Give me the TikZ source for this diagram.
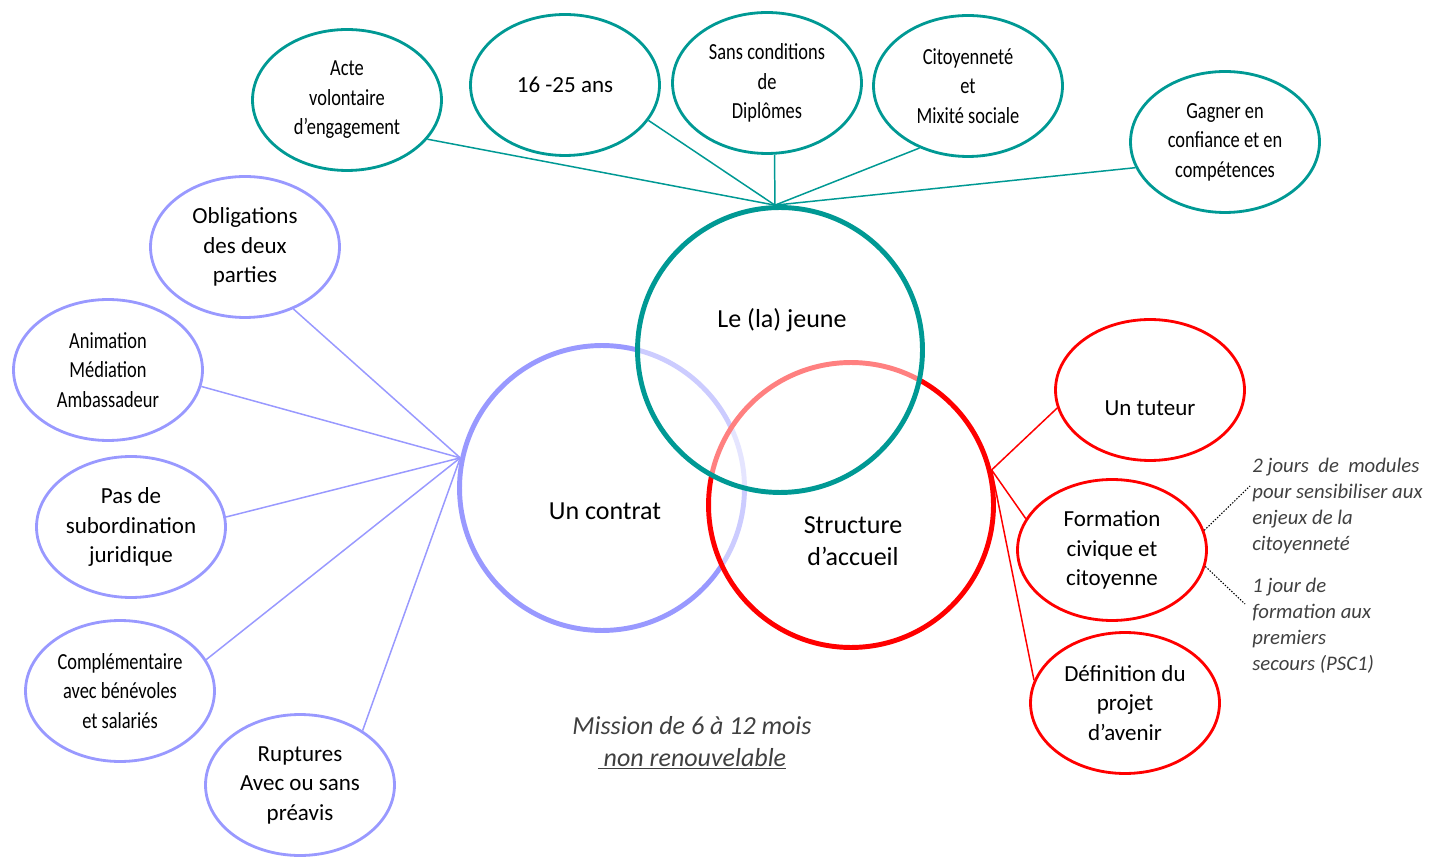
\documentclass[tikz,border=0pt]{standalone}
\usepackage{fontspec}
\setmainfont{Carlito}
\newfontfamily\narrowfont{Carlito}[FakeStretch=0.8]
\usetikzlibrary{shapes,positioning}
\definecolor{jeunecol}{RGB}{0,153,148}
\definecolor{contratcol}{RGB}{153,153,255}
\definecolor{structcol}{RGB}{255,0,0}
\definecolor{notegray}{RGB}{64,64,64}
\tikzset{
    topic/.style={
        circle,
        line width=2.8pt,
        inner sep=0pt,
        minimum size=5.7cm,
    },
    bubble/.style={
        ellipse,
        draw,
        line width=1.6pt,
        inner sep=0pt,
        minimum width=3.78cm,
        minimum height=2.82cm,
        align=center,
        font=\fontsize{13.1}{16.8}\selectfont,
    },
    narrow/.style={
        font=\narrowfont\fontsize{13.1}{16.8}\selectfont,
    },
    topictext/.style={
        align=center,
        font=\fontsize{14.8}{18.2}\selectfont,
    },
    link/.style={
        line width=0.85pt,
    },
    note/.style={
        anchor=north west,
        inner sep=0pt,
        align=left,
        text=notegray,
        font=\itshape\fontsize{11.8}{14.8}\selectfont,
    },
}
\begin{document}
\begin{tikzpicture}[x=0.02cm,y=-0.02cm]
    \useasboundingbox (0,0) rectangle (1429,857);
    \node [topic, draw=contratcol] (contrat) at (602,488) {};
    \node [topic, draw=structcol, fill=white, fill opacity=0.5] (structure) at (851,505) {};
    \node [topic, draw=jeunecol, fill=white, fill opacity=0.5] (jeune) at (780,350) {};
    \node [topictext] (jeunetxt) at (782,320) {Le (la) jeune};
    \node [topictext] (contrattxt) at (605,511) {Un contrat};
    \node [topictext] (structuretxt) at (853,541) {Structure\\d’accueil};

    \node [bubble, narrow, draw=jeunecol] (acte) at (347,100) {Acte\\volontaire\\d’engagement};
    \node [bubble, draw=jeunecol] (ages) at (565,85) {16 -25 ans};
    \node [bubble, narrow, draw=jeunecol] (diplomes) at (767,83) {Sans conditions\\de\\Diplômes};
    \node [bubble, narrow, draw=jeunecol] (mixite) at (968,86) {Citoyenneté\\et\\Mixité sociale};
    \node [bubble, narrow, draw=jeunecol] (confiance) at (1225,142) {Gagner en\\confiance et en\\compétences};

    \node [bubble, draw=contratcol] (obligations) at (245,247) {Obligations\\des deux\\parties};
    \node [bubble, narrow, draw=contratcol] (animation) at (108,370) {Animation\\Médiation\\Ambassadeur};
    \node [bubble, draw=contratcol] (subordination) at (131,527) {Pas de\\subordination\\juridique};
    \node [bubble, narrow, draw=contratcol] (benevoles) at (120,691) {Complémentaire\\avec bénévoles\\et salariés};
    \node [bubble, draw=contratcol] (ruptures) at (300,785) {Ruptures\\Avec ou sans\\préavis};

    \node [bubble, draw=structcol] (tuteur) at (1150,390) {};
    \node [topictext, font=\fontsize{13.1}{16.8}\selectfont] (tuteurtxt) at (1150,408) {Un tuteur};
    \node [bubble, draw=structcol] (formation) at (1112,550) {Formation\\civique et\\citoyenne};
    \node [bubble, draw=structcol] (avenir) at (1125,703) {Définition du\\projet\\d’avenir};

    \path [link, draw=jeunecol] (acte.-26) edge (jeune.92)
        (ages.-23) edge (jeune.92)
        (diplomes.-84) edge (jeune.92)
        (mixite.-128) edge (jeune.92)
        (confiance.196) edge (jeune.92);
    \path [link, draw=contratcol] (obligations.-52) edge (contrat.168)
        (animation.-10) edge (contrat.168)
        (subordination.6) edge (contrat.168)
        (benevoles.20) edge (contrat.168)
        (ruptures.41) edge (contrat.168);
    \path [link, draw=structcol] (tuteur.191) edge (structure.14)
        (formation.160) edge (structure.14)
        (avenir.166) edge (structure.14);

    \node [note] (modules) at (1252,458) {2 jours~ de~ modules\\pour sensibiliser aux\\enjeux de la\\citoyenneté};
    \node [note] (secours) at (1252,578) {1 jour de\\formation aux\\premiers\\secours (PSC1)};
    \coordinate (modulesend) at (1250,486);
    \coordinate (secoursend) at (1245,604);
    \draw [line width=0.6pt, dash pattern=on 0.8pt off 0.9pt] (formation.12) -- (modulesend);
    \draw [line width=0.6pt, dash pattern=on 0.8pt off 0.9pt] (formation.-10) -- (secoursend);

    \node [topictext, text=notegray, font=\itshape\fontsize{14.8}{18.2}\selectfont] (mission) at (692,743)
        {Mission de 6 à 12 mois\\\underline{\ non renouvelable}};
\end{tikzpicture}
\end{document}
